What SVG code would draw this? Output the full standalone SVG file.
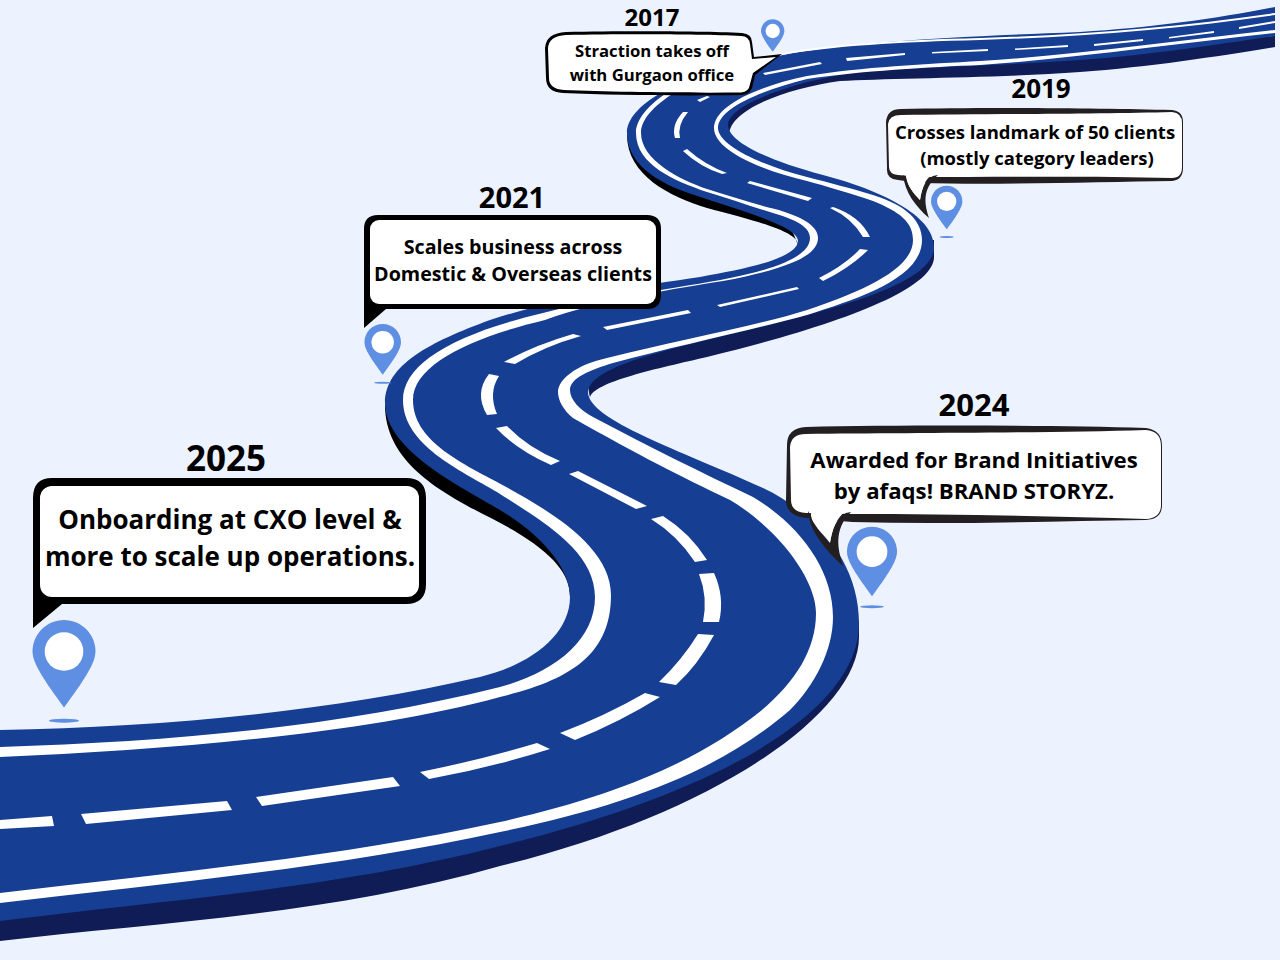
<svg xmlns="http://www.w3.org/2000/svg" width="1280" height="960" viewBox="0 0 1280 960">
<style>
text{font-family:"Open Sans","Noto Sans","Liberation Sans",sans-serif;font-weight:700;fill:#000;text-anchor:middle}
.pin{fill:#5e8fe3}.navy{fill:#0f1c55}.blk{fill:#000}.road{fill:#163e92}.w{fill:#fff}.ink{fill:#231f20}
</style>
<defs>
<g id="pinmark">
<path class="pin" d="M0,-31.5C17.4,-31.5 31.5,-17.4 31.5,0C31.5,12 19,30 0,56C-19,30 -31.5,12 -31.5,0C-31.5,-17.4 -17.4,-31.5 0,-31.5Z"/>
<circle class="w" r="19.3"/>
</g>
</defs>
<rect width="1280" height="960" fill="#ecf3ff"/>
<g id="road">
<path class="navy" d="M1275,36L1275,47C1220,56 1150,67 1080,72C1000,78 890,78 840,81C790,88 730,108 729,135L720,110L840,65Z"/>
<path class="navy" d="M934,240L934,257C934,290 835,326 707,357C660,368 592,382 590,398L585,370L700,330L920,240Z"/>
<path class="navy" d="M859,620L859,637C859,715 710,815 500,866C330,915 160,922 0,941L0,900L500,830L840,640Z"/>
<path class="blk" d="M570,597C570,575 555,555 513,530C470,505 385,475 385,405L410,420L470,470L540,520L585,590Z"/>
<path class="blk" d="M798,245C798,232 760,222 707,208C670,197 627,175 627,135L645,130L690,180L790,225Z"/>
<path class="road" d="M0,730C160,727 330,712 480,677C530,665 570,635 570,597C570,570 545,537 500,510C460,486 385,450 385,403C385,365 430,342 490,320C560,297 640,286 700,277C750,268 797,258 798,241C798,225 730,208 680,190C650,178 627,160 627,133C627,105 680,72 782,55C850,42 950,37 1080,32C1150,28 1220,18 1275,7L1275,36C1220,44 1150,55 1080,60C1000,66 880,68 840,75C790,84 728,105 728,125C728,140 760,158 823,175C880,190 934,215 934,247C934,285 830,310 740,332C680,347 590,365 588,392C588,420 680,450 763,488C820,515 859,565 859,623C859,715 710,795 500,846C330,890 160,900 0,921Z"/>
<path class="w" d="M0,747C170,742 340,727 500,687C555,672 595,640 595,597C595,550 540,520 497,492C460,470 403,445 403,400C403,365 450,335 543,313C600,298 680,288 730,278C780,268 810,255 810,238C810,225 790,218 773,213C750,206 730,199 707,192C675,181 636,165 636,133C636,105 690,68 783,53C830,44 900,40 980,38C1080,35 1180,27 1275,13L1275,15C1180,29 1080,37 980,40C900,42 830,46 783,55C700,70 641,105 641,133C641,160 680,180 707,189C730,196 750,203 775,209C800,216 818,225 818,238C818,258 780,270 723,281C680,288 600,300 545,320C470,338 413,365 413,400C413,440 460,462 497,482C545,508 611,545 611,595C611,655 570,680 500,697C370,733 170,750 0,757Z"/>
<path class="w" d="M0,893C170,873 340,857 500,822C620,795 700,760 762,710C795,682 816,650 816,613C816,580 780,530 730,500C680,476 640,456 573,418C563,410 558,400 558,392C558,380 575,365 607,358C680,340 760,325 807,310C860,292 913,270 913,240C913,222 900,212 873,201C850,193 825,186 807,181C760,170 714,150 714,128C714,108 750,88 807,76C860,67 930,64 980,61C1080,55 1180,40 1275,30L1275,33C1180,43 1080,58 980,65C930,67 860,71 807,79C755,92 718,110 718,128C718,145 760,165 807,177C830,183 850,188 873,195C905,205 922,220 922,240C922,278 860,298 807,315C760,328 680,345 613,363C590,370 570,378 570,390C570,400 580,410 593,417C650,447 700,472 753,497C800,525 833,570 833,617C833,650 815,685 790,710C720,770 630,805 500,832C340,867 170,883 0,903Z"/>
<path class="w" d="M0,820L52,816L54,826L0,829Z"/>
<path class="w" d="M81,814L227,801L232,810L86,824Z"/>
<path class="w" d="M256,797L393,777L400,786L262,806Z"/>
<path class="w" d="M420,772Q480,760 537,743L550,749Q490,768 429,779Z"/>
<path class="w" d="M560,733Q605,716 645,693L660,697Q620,722 575,740Z"/>
<path class="w" d="M659,682Q682,660 698,634L714,635Q698,665 676,685Z"/>
<path class="w" d="M703,622Q708,597 699,574L714,573Q725,597 719,622Z"/>
<path class="w" d="M695,562Q677,535 651,519L663,516Q690,533 707,560Z"/>
<path class="w" d="M569,474L578,471L647,506L636,509Z"/>
<path class="w" d="M496,428L507,426Q528,448 560,461L551,465Q517,450 496,428Z"/>
<path class="w" d="M487,415L497,414Q488,393 499,376L489,374Q474,393 487,415Z"/>
<path class="w" d="M504,362L515,364Q545,346 581,336L573,334Q535,345 504,362Z"/>
<path class="w" d="M603,327L607,330L691,313L688,310Z"/>
<path class="w" d="M717,305L720,307L799,289L797,287Z"/>
<path class="w" d="M819,278L823,281Q850,268 868,250L860,249Q845,265 819,278Z"/>
<path class="w" d="M830,208L833,207Q860,216 870,237L863,237Q852,218 830,208Z"/>
<path class="w" d="M747,183L750,181L812,198L808,201Z"/>
<path class="w" d="M683,151L687,149Q705,165 727,173L722,174Q700,167 683,151Z"/>
<path class="w" d="M675,138L680,138Q677,125 688,112L683,112Q671,125 675,138Z"/>
<path class="w" d="M697,100L700,102L710,97L707,96Z"/>
<path class="w" d="M763,73L765,75L822,64L820,62Z"/>
<path class="w" d="M846,58L847,61L905,55L905,53Z"/>
<path class="w" d="M932,52L932,53.5L988,51L988,49Z"/>
<path class="w" d="M1015,48.5L1015,50L1068,47L1068,45Z"/>
<path class="w" d="M1094,44L1094,46L1143,41L1143,39Z"/>
<path class="w" d="M1169,37L1169,38.5L1214,33L1214,31Z"/>
<path class="w" d="M1239,27L1239,29L1275,23L1275,21Z"/>
</g>
<g id="node-2017">
<use href="#pinmark" transform="translate(772.7,31) scale(.371)"/>
<path class="blk" d="M566,32C620,31 700,31 742,33Q752,34 752,42L754,57L782,54L755,75L753,84Q752,94 742,95C680,96 610,95 563,93Q546,92 546,78L545,48Q546,33 566,32Z"/>
<path class="w" d="M566,35C620,34 700,34 741,36Q749,36 750,44L752,59L776,57L753,73L750,84Q749,92 741,92.500C680,93 610,92 564,90Q549,89 549,78L548,49Q548,36 566,35Z"/>
<text x="652" y="26" font-size="24">2017</text>
<text x="652" y="57" font-size="16.700">Straction takes off</text>
<text x="652" y="81" font-size="16.700">with Gurgaon office</text>
</g>
<g id="node-2019">
<use href="#pinmark" transform="translate(946.700,201.400) scale(.498)"/>
<ellipse class="pin" cx="946.700" cy="237" rx="7" ry="1"/>
<path class="ink" d="M901,109C980,107 1100,108 1172,110Q1183,111 1183,122V168Q1183,180 1172,181C1100,182 1000,185 920,183L898,180Q886,179 887,168L886,122Q887,109 901,109Z"/>
<path class="w" d="M901,115C980,114 1100,114 1172,112Q1182,113 1182,123V167Q1182,178 1172,178C1100,176 1000,177 920,177L898,175Q889,174 889,167L888,124Q889,115 901,115Z"/>
<path class="ink" d="M903,175C905,192 915,206 929,218C925,205 921,190 938,175L933,176C925,180 922,188 920,200C913,193 908,186 906,177Z"/>
<path class="w" d="M906,174L934,174C925,178 922,188 920,200C913,193 908,186 906,177Z"/>
<text x="1041" y="98" font-size="26">2019</text>
<text x="1035" y="139" font-size="18.500">Crosses landmark of 50 clients</text>
<text x="1037" y="165" font-size="18.500">(mostly category leaders)</text>
</g>
<g id="node-2021">
<use href="#pinmark" transform="translate(382.700,342.300) scale(.581)"/>
<ellipse class="pin" cx="382.700" cy="382.700" rx="8.500" ry="1"/>
<path class="blk" d="M378,215H647Q661,215 661,229V295Q661,309 647,309H386L364,328V229Q364,215 378,215Z"/>
<rect class="w" x="370" y="220" width="286" height="84" rx="9"/>
<text x="512" y="208" font-size="29">2021</text>
<text x="513" y="254" font-size="19.700">Scales business across</text>
<text x="513" y="281" font-size="19.700">Domestic &amp; Overseas clients</text>
</g>
<g id="node-2024">
<use href="#pinmark" transform="translate(872,551.700) scale(.795)"/>
<ellipse class="pin" cx="872" cy="606.700" rx="12" ry="1.500"/>
<path class="ink" d="M806,427C900,425 1050,425 1146,428Q1162,430 1162,446V505Q1162,519 1146,520C1050,521 950,525 852,522L806,518Q786,516 786,500L787,445Q787,428 806,427Z"/>
<path class="w" d="M806,434C900,433 1050,433 1146,430Q1161,431 1161,446V505Q1161,518 1146,519C1050,516 950,514 852,514L806,513Q791,512 791,500L790,447Q791,434 806,434Z"/>
<path class="ink" d="M808,511C809,530 825,550 843,566C838,550 833,530 851,512L846,513C836,518 832,530 830,543C822,533 813,525 811,516Z"/>
<path class="w" d="M811,511L846,511C836,518 832,530 830,543C822,533 813,525 811,516Z"/>
<text x="974" y="416" font-size="31">2024</text>
<text x="974" y="468" font-size="22.200">Awarded for Brand Initiatives</text>
<text x="974" y="499" font-size="22.200">by afaqs! BRAND STORYZ.</text>
</g>
<g id="node-2025">
<use href="#pinmark" transform="translate(64,651.500)"/>
<ellipse class="pin" cx="64" cy="720.700" rx="15" ry="2"/>
<path class="blk" d="M52,478H406Q426,478 426,498V584Q426,604 406,604H62L33,628V498Q33,478 52,478Z"/>
<rect class="w" x="40" y="486" width="379" height="111" rx="12"/>
<text x="226" y="471" font-size="35">2025</text>
<text x="230" y="529" font-size="26">Onboarding at CXO level &amp;</text>
<text x="230" y="566" font-size="26">more to scale up operations.</text>
</g>
</svg>
